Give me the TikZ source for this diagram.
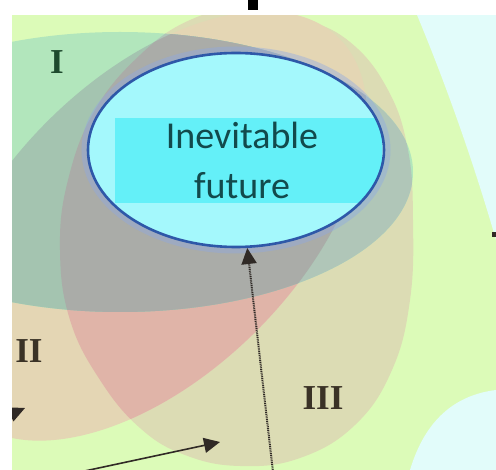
\documentclass[tikz,border=0pt]{standalone}
\usepackage{fontspec}
\setmainfont{Liberation Serif}
\newfontfamily\calfont{Carlito}
\usetikzlibrary{arrows.meta,shapes.geometric}

\definecolor{bgzone}{HTML}{DCFBB8}
\definecolor{skyzone}{HTML}{E2FCFA}
\definecolor{zoneI}{HTML}{B2E6BC}
\definecolor{zoneII}{HTML}{E4D6B4}
\definecolor{zoneIII}{HTML}{DCDCB4}
\definecolor{zoneIxII}{HTML}{A4C4B0}
\definecolor{zoneIxIII}{HTML}{B0C6B8}
\definecolor{zoneIIxIII}{HTML}{E0B4A8}
\definecolor{zoneAll}{HTML}{AAACA8}
\definecolor{futrim}{HTML}{A4F8FC}
\definecolor{futcore}{HTML}{64F0F8}
\definecolor{futline}{HTML}{2E58A8}
\definecolor{futglow}{HTML}{8CA8E6}
\definecolor{futtext}{HTML}{124A4C}
\definecolor{numI}{HTML}{1E4A2E}
\definecolor{numII}{HTML}{3A3226}
\definecolor{arrowdark}{HTML}{302A26}

% the three sets
\def\setI{(120,172) ellipse [x radius=293, y radius=140]}
\def\setII{(0,0) ellipse [x radius=265, y radius=148]}
\def\setIII{plot[smooth cycle,tension=.7] coordinates {
    (245,8) (300,18) (350,42) (388,90) (408,150) (413,220) (410,300)
    (392,370) (355,425) (300,458) (240,466) (185,455) (140,428)
    (100,380) (70,320) (60,250) (68,180) (95,110) (140,55) (190,20)}}

\begin{document}
\begin{tikzpicture}[x=1pt,y=-1pt,
    tiltII/.style={shift={(152,226)},rotate=45},
    numeral/.style={font=\fontsize{35}{35}\selectfont\bfseries,inner sep=0pt},
    head/.style={-{Triangle[length=16pt,width=15pt]},line width=1.6pt}]
    \useasboundingbox (0,0) rectangle (496,470);
    % background and pale corners
    \fill[bgzone] (0,0) rectangle (496,470);
    \fill[skyzone] (417,15) .. controls (440,70) and (470,150) .. (496,240)
        -- (496,15) -- cycle;
    \fill[skyzone] (410,470) .. controls (425,420) and (455,395) .. (496,390)
        -- (496,470) -- cycle;

    % single sets
    \fill[zoneIII] \setIII;
    \fill[zoneII,tiltII] \setII;
    \fill[zoneI] \setI;

    % overlaps
    \begin{scope}
        \clip (0,120) rectangle (496,470);
        \clip[tiltII] \setII;
        \fill[zoneIIxIII] \setIII;
    \end{scope}
    \begin{scope}
        \clip \setI;
        \fill[zoneIxIII] \setIII;
        \fill[zoneIxII,tiltII] \setII;
        \clip[tiltII] \setII;
        \fill[zoneAll] \setIII;
    \end{scope}

    % the inevitable future
    \draw[futglow,opacity=.4,line width=9pt] (236,150) ellipse [x radius=150, y radius=99];
    \node[ellipse,draw=futline,line width=2.6pt,fill=futrim,inner sep=0pt,
        minimum width=296pt,minimum height=194pt,
        path picture={\fill[futcore]
            ([xshift=27pt,yshift=44pt]path picture bounding box.south west) rectangle
            ([xshift=-2pt,yshift=-65pt]path picture bounding box.north east);}]
        (fut) at (236,150) {};
    \node[font=\calfont\fontsize{38}{50}\selectfont,text=futtext,align=center,inner sep=0pt]
        (futlbl) at (242,160) {Inevitable\\future};

    \node[numeral,text=numI] (lblI) at (57,62) {I};
    \node[numeral,text=numII] (lblII) at (29,351) {II};
    \node[numeral,text=numII] (lblIII) at (323,398) {III};

    % arrows
    \coordinate (upfoot) at (273,472);
    \coordinate (lowfoot) at (80,472);
    \coordinate (lowtip) at (220,442);
    \coordinate (edgefoot) at (-30,432);
    \coordinate (edgetip) at (25,408);
    \draw[head,draw=arrowdark,line width=2pt,dash pattern=on 1pt off 0.8pt] (upfoot) -- (fut);
    \draw[head,draw=arrowdark] (lowfoot) -- (lowtip);
    \draw[head,draw=arrowdark] (edgefoot) -- (edgetip);

    % cropped margins
    \fill[white] (0,0) rectangle (496,15);
    \fill[white] (0,0) rectangle (12,470);
    \fill[black] (248,0) rectangle (258,10);
    \fill[arrowdark] (492,232) rectangle (496,237);
\end{tikzpicture}
\end{document}
